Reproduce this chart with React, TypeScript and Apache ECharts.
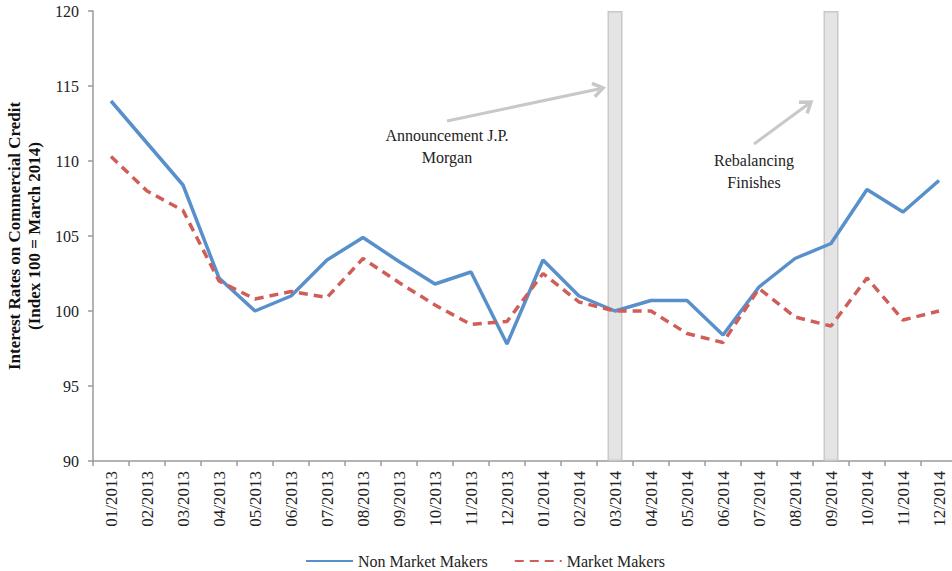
import React, { useEffect, useRef } from "react";
import * as echarts from "echarts";

const categories = [
  "01/2013", "02/2013", "03/2013", "04/2013", "05/2013", "06/2013",
  "07/2013", "08/2013", "09/2013", "10/2013", "11/2013", "12/2013",
  "01/2014", "02/2014", "03/2014", "04/2014", "05/2014", "06/2014",
  "07/2014", "08/2014", "09/2014", "10/2014", "11/2014", "12/2014",
];

const nonMarketMakers = [
  114.0, 111.2, 108.4, 102.2, 100.0, 101.0,
  103.4, 104.9, 103.3, 101.8, 102.6, 97.8,
  103.4, 101.0, 100.0, 100.7, 100.7, 98.4,
  101.6, 103.5, 104.5, 108.1, 106.6, 108.7,
];

const marketMakers = [
  110.3, 108.0, 106.7, 102.0, 100.8, 101.3,
  100.9, 103.5, 101.9, 100.4, 99.1, 99.3,
  102.5, 100.6, 100.0, 100.0, 98.5, 97.9,
  101.5, 99.6, 99.0, 102.2, 99.4, 100.0,
];

const eventMonths = ["03/2014", "09/2014"];
const yMin = 90;
const yMax = 120;
const yInterval = 5;

const FONT = "'Liberation Serif', 'Times New Roman', serif";
const BLUE = "#5890CC";
const RED = "#CF5E58";
const AXIS = "#9a9a9a";
const ARROW = "#c8c8c8";

function arrow(x1: number, y1: number, x2: number, y2: number) {
  const dx = x2 - x1;
  const dy = y2 - y1;
  const len = Math.sqrt(dx * dx + dy * dy);
  const ux = dx / len;
  const uy = dy / len;
  const armLen = 12;
  const ang = (35 * Math.PI) / 180;
  const rot = (a: number) => [
    ux * Math.cos(a) - uy * Math.sin(a),
    ux * Math.sin(a) + uy * Math.cos(a),
  ];
  const [ax, ay] = rot(ang);
  const [bx, by] = rot(-ang);
  return [
    {
      type: "line",
      shape: { x1, y1, x2: x2 - ux * 2, y2: y2 - uy * 2 },
      style: { stroke: ARROW, lineWidth: 3 },
      z: 5,
    },
    {
      type: "polyline",
      shape: {
        points: [
          [x2 - ax * armLen, y2 - ay * armLen],
          [x2, y2],
          [x2 - bx * armLen, y2 - by * armLen],
        ],
      },
      style: { stroke: ARROW, lineWidth: 3.5, fill: null, lineJoin: "miter" },
      z: 5,
    },
  ];
}

export default function App() {
  const ref = useRef<HTMLDivElement>(null);

  useEffect(() => {
    if (!ref.current) return;
    const chart = echarts.init(ref.current, undefined, { renderer: "svg" });
    const eventData = categories.map((c) => (eventMonths.includes(c) ? yMax : "-"));

    chart.setOption({
      animation: false,
      backgroundColor: "#ffffff",
      textStyle: { fontFamily: FONT },
      grid: {
        left: 93,
        right: 3,
        top: 11,
        bottom: 110,
        containLabel: false,
        outerBoundsMode: "none",
      },
      legend: {
        left: 300,
        top: 548,
        itemWidth: 47,
        itemHeight: 14,
        itemGap: 26,
        data: ["Non Market Makers", "Market Makers"],
        itemStyle: { opacity: 0 },
        textStyle: { fontFamily: FONT, fontSize: 16, color: "#222" },
      },
      xAxis: {
        type: "category",
        data: categories,
        boundaryGap: true,
        axisLine: { show: true, lineStyle: { color: AXIS, width: 1.5 } },
        axisTick: { show: true, length: 5, alignWithLabel: false, lineStyle: { color: AXIS, width: 1.5 } },
        axisLabel: {
          rotate: 90,
          interval: 0,
          margin: 10,
          fontFamily: FONT,
          fontSize: 17,
          color: "#222",
        },
        splitLine: { show: false },
      },
      yAxis: {
        type: "value",
        min: yMin,
        max: yMax,
        interval: yInterval,
        startValue: yMin,
        name: "Interest Rates on Commercial Credit\n(Index 100 = March 2014)",
        nameLocation: "middle",
        nameRotate: 90,
        nameGap: 42,
        nameTextStyle: {
          fontFamily: FONT,
          fontSize: 17,
          fontWeight: "bold",
          color: "#111",
          lineHeight: 20,
          align: "center",
        },
        axisLine: { show: true, lineStyle: { color: AXIS, width: 1.5 } },
        axisTick: { show: true, length: 5, lineStyle: { color: AXIS, width: 1.5 } },
        axisLabel: { margin: 14, fontFamily: FONT, fontSize: 16, color: "#222" },
        splitLine: { show: false },
      },
      series: [
        {
          name: "Events",
          type: "bar",
          data: eventData,
          barWidth: 15,
          itemStyle: { color: "#e4e4e4", borderColor: "#c8c8c8", borderWidth: 1.5 },
          z: 1,
          silent: true,
        },
        {
          name: "Non Market Makers",
          type: "line",
          data: nonMarketMakers,
          symbol: "none",
          lineStyle: { color: BLUE, width: 3.5 },
          itemStyle: { color: BLUE },
          z: 3,
        },
        {
          name: "Market Makers",
          type: "line",
          data: marketMakers,
          symbol: "none",
          lineStyle: { color: RED, width: 3.5, type: [9, 6] },
          itemStyle: { color: RED },
          z: 4,
        },
      ],
      graphic: [
        ...arrow(447, 121, 603, 88),
        ...arrow(754, 144, 811, 102),
        {
          type: "text",
          x: 447,
          y: 124,
          style: {
            text: "Announcement J.P.\nMorgan",
            font: `16px ${FONT}`,
            fill: "#222",
            textAlign: "center",
            textVerticalAlign: "top",
            lineHeight: 22,
          },
          z: 6,
        },
        {
          type: "text",
          x: 754,
          y: 149,
          style: {
            text: "Rebalancing\nFinishes",
            font: `16px ${FONT}`,
            fill: "#222",
            textAlign: "center",
            textVerticalAlign: "top",
            lineHeight: 22,
          },
          z: 6,
        },
      ],
    });

    return () => chart.dispose();
  }, []);

  return (
    <div
      ref={ref}
      style={{ position: "fixed", left: 0, top: 0, width: 960, height: 571, background: "#fff" }}
    />
  );
}
